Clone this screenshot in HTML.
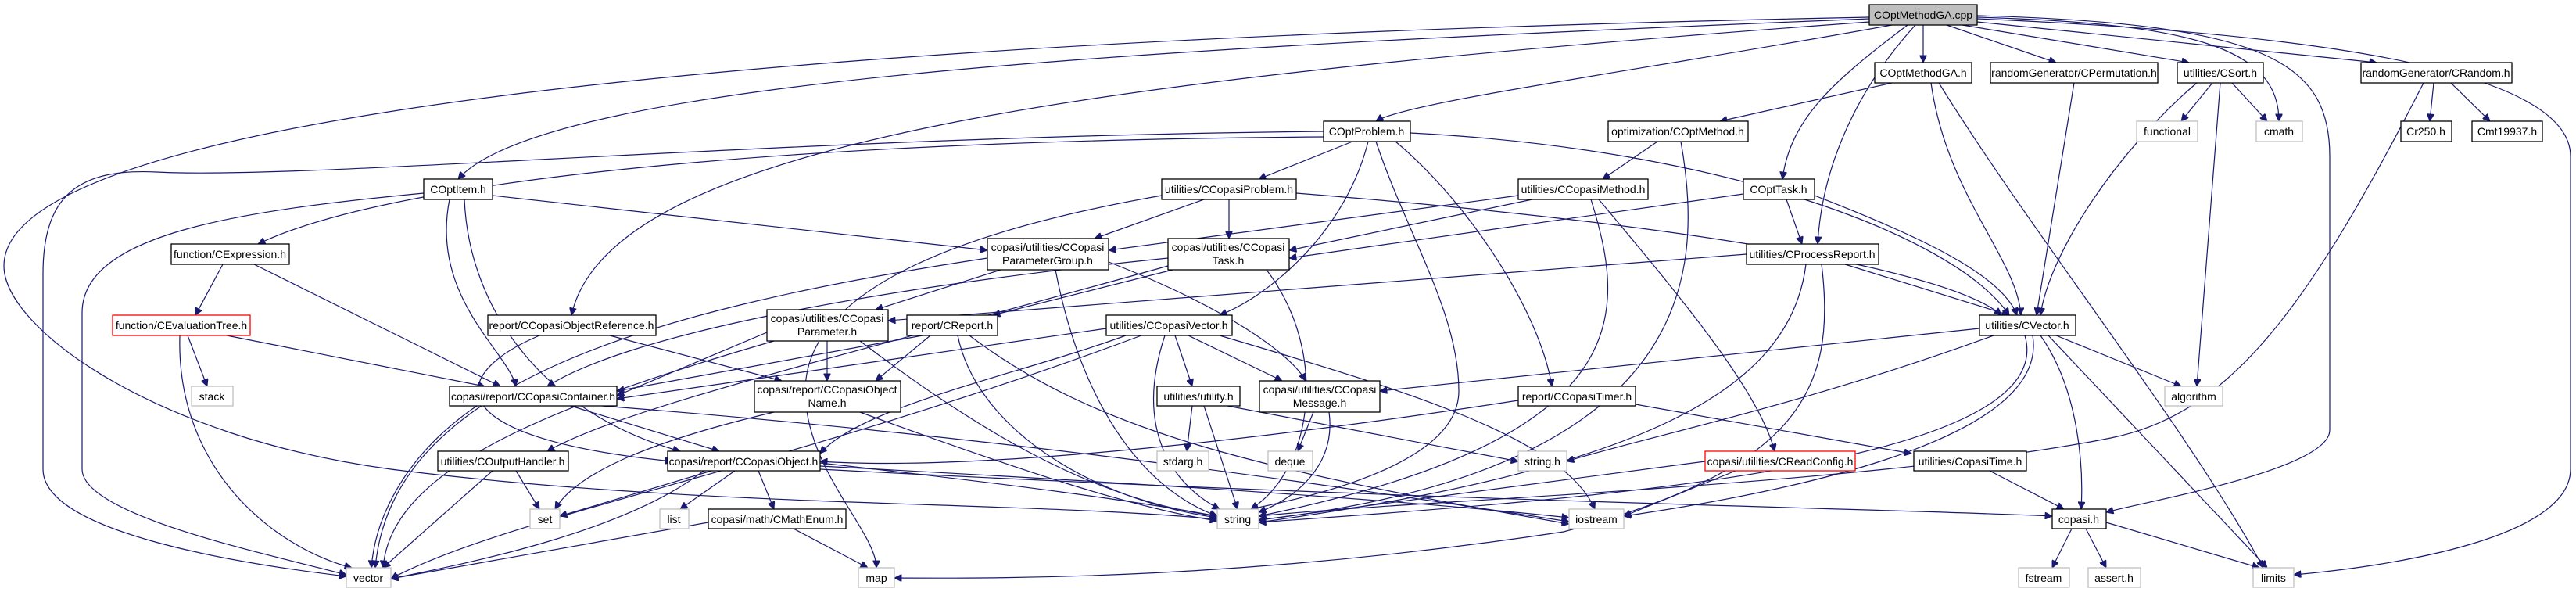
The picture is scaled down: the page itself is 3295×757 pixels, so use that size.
<!DOCTYPE html>
<html><head><meta charset="utf-8"><style>
html,body{margin:0;padding:0;background:#fff;}
svg{display:block;}
text{font-family:"Liberation Sans",sans-serif;font-size:14px;fill:#000;}
.n{fill:#fff;stroke:#000;stroke-width:1.3;}
.g{fill:#fff;stroke:#bfbfbf;stroke-width:1.3;}
.r{fill:#fff;stroke:#ff0000;stroke-width:1.3;}
.e path{fill:none;stroke:#191970;stroke-width:1.2;}
</style></head><body>
<svg width="3295" height="757" viewBox="0 0 3295 757" xmlns="http://www.w3.org/2000/svg">
<defs><marker id="a" viewBox="0 0 10 10" refX="10" refY="5" markerWidth="12" markerHeight="9" markerUnits="userSpaceOnUse" orient="auto"><path d="M0,0 L10,5 L0,10 z" fill="#191970" stroke="#191970"/></marker></defs>
<g class="e" marker-end="url(#a)">
<path marker-end="url(#a)" d="M2391,24 C1500,60 700,100 586,229"/>
<path marker-end="url(#a)" d="M2391,28 C1400,100 780,180 731,403"/>
<path marker-end="url(#a)" d="M2420,32 C2100,90 1800,130 1760,155"/>
<path marker-end="url(#a)" d="M2440,32 C2350,100 2290,150 2280,229"/>
<path marker-end="url(#a)" d="M2450,32 C2370,120 2330,220 2325,312"/>
<path marker-end="url(#a)" d="M2460,32 L2460,80"/>
<path marker-end="url(#a)" d="M2490,32 L2630,80"/>
<path marker-end="url(#a)" d="M2510,32 L2800,80"/>
<path marker-end="url(#a)" d="M2529,28 L3040,80"/>
<path marker-end="url(#a)" d="M2529,22 C2800,30 2915,60 2915,155"/>
<path marker-end="url(#a)" d="M2529,20 C2900,30 2980,80 2980,200 L2980,550 C2980,600 2750,640 2694,655"/>
<path marker-end="url(#a)" d="M2529,24 C2900,40 3288,80 3288,200 L3288,600 C3288,680 3100,720 2934,735"/>
<path marker-end="url(#a)" d="M2391,22 C1500,40 5,100 5,340 C5,420 200,560 500,600 C900,650 1300,640 1557,664"/>
<path marker-end="url(#a)" d="M2420,106 L2200,155"/>
<path marker-end="url(#a)" d="M2470,106 C2490,250 2580,330 2585,403"/>
<path marker-end="url(#a)" d="M2480,106 C2600,300 2800,550 2895,726"/>
<path marker-end="url(#a)" d="M2653,106 L2605,403"/>
<path marker-end="url(#a)" d="M2830,106 L2790,155"/>
<path marker-end="url(#a)" d="M2855,106 L2900,155"/>
<path marker-end="url(#a)" d="M2810,106 C2700,200 2620,330 2610,403"/>
<path marker-end="url(#a)" d="M2840,106 L2810,494"/>
<path marker-end="url(#a)" d="M3113,106 L3108,155"/>
<path marker-end="url(#a)" d="M3135,106 L3185,155"/>
<path marker-end="url(#a)" d="M3100,106 C2950,400 2850,530 2700,560 C2400,620 1800,640 1610,660"/>
<path marker-end="url(#a)" d="M2120,181 L2050,229"/>
<path marker-end="url(#a)" d="M2150,181 C2180,350 2170,600 1610,665"/>
<path marker-end="url(#a)" d="M1730,181 L1610,229"/>
<path marker-end="url(#a)" d="M1693,175 C1000,180 500,230 330,312"/>
<path marker-end="url(#a)" d="M1693,168 C1000,175 400,230 200,220 C100,215 55,250 55,350 L55,600 C55,680 300,720 443,737"/>
<path marker-end="url(#a)" d="M1804,170 C2200,190 2500,300 2570,403"/>
<path marker-end="url(#a)" d="M1760,181 C1800,300 1866,400 1866,500 C1866,600 1650,640 1600,651"/>
<path marker-end="url(#a)" d="M1750,181 C1720,300 1620,380 1560,403"/>
<path marker-end="url(#a)" d="M1785,181 C1880,260 1970,400 1985,494"/>
<path marker-end="url(#a)" d="M630,250 L1263,320"/>
<path marker-end="url(#a)" d="M575,255 C550,380 650,450 660,494"/>
<path marker-end="url(#a)" d="M594,255 C600,400 700,530 870,577"/>
<path marker-end="url(#a)" d="M542,247 C300,270 105,300 105,400 L105,600 C105,660 350,710 443,735"/>
<path marker-end="url(#a)" d="M1540,255 L1400,305"/>
<path marker-end="url(#a)" d="M1572,255 L1572,305"/>
<path marker-end="url(#a)" d="M1658,247 C2200,290 2500,350 2560,403"/>
<path marker-end="url(#a)" d="M1486,250 C1200,300 1030,380 1030,500 C1030,600 1121,680 1121,726"/>
<path marker-end="url(#a)" d="M1942,250 L1418,320"/>
<path marker-end="url(#a)" d="M1960,255 L1649,320"/>
<path marker-end="url(#a)" d="M2035,255 C2080,400 2100,560 1610,660"/>
<path marker-end="url(#a)" d="M2045,255 C2150,380 2250,500 2270,577"/>
<path marker-end="url(#a)" d="M2230,248 L1649,330"/>
<path marker-end="url(#a)" d="M2285,255 L2305,312"/>
<path marker-end="url(#a)" d="M2321,250 C2450,300 2560,350 2580,403"/>
<path marker-end="url(#a)" d="M285,338 L250,403"/>
<path marker-end="url(#a)" d="M325,338 L640,494"/>
<path marker-end="url(#a)" d="M1280,345 L1120,396"/>
<path marker-end="url(#a)" d="M1418,335 C1560,390 1650,450 1670,487"/>
<path marker-end="url(#a)" d="M1263,330 C800,400 500,500 480,726"/>
<path marker-end="url(#a)" d="M1350,345 C1380,500 1450,620 1557,660"/>
<path marker-end="url(#a)" d="M1500,345 L1270,403"/>
<path marker-end="url(#a)" d="M1494,330 C1100,370 800,430 700,494"/>
<path marker-end="url(#a)" d="M1494,340 C1100,450 800,520 700,577"/>
<path marker-end="url(#a)" d="M1620,345 C1700,450 1680,600 1600,651"/>
<path marker-end="url(#a)" d="M2234,325 L1136,410"/>
<path marker-end="url(#a)" d="M2360,338 L2570,403"/>
<path marker-end="url(#a)" d="M2310,338 C2290,500 2100,600 1610,668"/>
<path marker-end="url(#a)" d="M2330,338 C2350,500 2300,600 2000,680 C1600,740 1300,740 1144,739"/>
<path marker-end="url(#a)" d="M240,429 L265,494"/>
<path marker-end="url(#a)" d="M290,429 L620,494"/>
<path marker-end="url(#a)" d="M230,429 C225,600 350,700 450,726"/>
<path marker-end="url(#a)" d="M780,429 L1000,487"/>
<path marker-end="url(#a)" d="M690,429 C570,480 560,560 860,590"/>
<path marker-end="url(#a)" d="M981,425 L789,506"/>
<path marker-end="url(#a)" d="M1058,436 L1058,487"/>
<path marker-end="url(#a)" d="M1100,436 C1250,550 1400,640 1557,660"/>
<path marker-end="url(#a)" d="M990,436 C700,520 500,600 490,726"/>
<path marker-end="url(#a)" d="M1180,429 L789,500"/>
<path marker-end="url(#a)" d="M1190,429 L1120,487"/>
<path marker-end="url(#a)" d="M1225,429 C1250,550 1400,640 1557,662"/>
<path marker-end="url(#a)" d="M1240,429 C1400,550 1600,600 2007,670"/>
<path marker-end="url(#a)" d="M1415,420 L789,510"/>
<path marker-end="url(#a)" d="M1440,429 C1300,480 1100,520 1049,580"/>
<path marker-end="url(#a)" d="M1503,429 L1525,494"/>
<path marker-end="url(#a)" d="M1520,429 L1640,487"/>
<path marker-end="url(#a)" d="M1490,429 C1450,550 1500,620 1560,651"/>
<path marker-end="url(#a)" d="M1560,429 C1800,500 2000,560 2040,651"/>
<path marker-end="url(#a)" d="M1460,429 C1000,600 650,660 500,740"/>
<path marker-end="url(#a)" d="M2532,420 L1765,500"/>
<path marker-end="url(#a)" d="M2550,429 C2300,520 2100,560 2004,590"/>
<path marker-end="url(#a)" d="M2630,429 L2790,494"/>
<path marker-end="url(#a)" d="M2610,429 C2660,500 2665,600 2662,651"/>
<path marker-end="url(#a)" d="M2620,429 L2900,726"/>
<path marker-end="url(#a)" d="M2600,429 C2620,550 2350,620 2077,660"/>
<path marker-end="url(#a)" d="M2590,429 C2640,600 2000,640 1610,668"/>
<path marker-end="url(#a)" d="M730,519 L920,577"/>
<path marker-end="url(#a)" d="M610,519 C520,580 480,660 475,726"/>
<path marker-end="url(#a)" d="M770,519 C1300,560 1700,620 2007,667"/>
<path marker-end="url(#a)" d="M1100,527 C1300,600 1450,650 1557,666"/>
<path marker-end="url(#a)" d="M990,527 C850,560 740,600 710,651"/>
<path marker-end="url(#a)" d="M1525,519 L1518,577"/>
<path marker-end="url(#a)" d="M1540,519 L1583,651"/>
<path marker-end="url(#a)" d="M1570,519 L1942,590"/>
<path marker-end="url(#a)" d="M1680,527 L1660,577"/>
<path marker-end="url(#a)" d="M1700,527 C1710,600 1650,640 1610,655"/>
<path marker-end="url(#a)" d="M2092,517 L2445,580"/>
<path marker-end="url(#a)" d="M1942,512 C1500,580 1200,600 1049,590"/>
<path marker-end="url(#a)" d="M660,602 L690,651"/>
<path marker-end="url(#a)" d="M630,602 L490,726"/>
<path marker-end="url(#a)" d="M910,602 L716,660"/>
<path marker-end="url(#a)" d="M940,602 L870,651"/>
<path marker-end="url(#a)" d="M970,602 L990,651"/>
<path marker-end="url(#a)" d="M900,602 C800,680 600,720 500,740"/>
<path marker-end="url(#a)" d="M1049,592 C1300,620 1450,640 1557,660"/>
<path marker-end="url(#a)" d="M1049,596 C1500,620 1800,640 2007,662"/>
<path marker-end="url(#a)" d="M1049,600 C1800,640 2400,650 2625,660"/>
<path marker-end="url(#a)" d="M2181,590 L1610,665"/>
<path marker-end="url(#a)" d="M2220,602 L2077,660"/>
<path marker-end="url(#a)" d="M2545,602 L2640,651"/>
<path marker-end="url(#a)" d="M2650,676 L2625,726"/>
<path marker-end="url(#a)" d="M2668,676 L2694,726"/>
<path marker-end="url(#a)" d="M2694,668 L2890,726"/>
<path marker-end="url(#a)" d="M906,668 L500,740"/>
<path marker-end="url(#a)" d="M1015,676 L1110,726"/>
</g>
<g text-anchor="middle">
<rect x="2391" y="6" width="138" height="26" fill="#bfbfbf" stroke="#000" stroke-width="1.3"/><text x="2460" y="24">COptMethodGA.cpp</text>
<rect class="n" x="542" y="229" width="88" height="26"/><text x="586" y="247">COptItem.h</text>
<rect class="n" x="624" y="403" width="215" height="26"/><text x="731" y="421">report/CCopasiObjectReference.h</text>
<rect class="n" x="1693" y="155" width="111" height="26"/><text x="1748" y="173">COptProblem.h</text>
<rect class="n" x="2230" y="229" width="91" height="26"/><text x="2275" y="247">COptTask.h</text>
<rect class="n" x="2234" y="312" width="169" height="26"/><text x="2318" y="330">utilities/CProcessReport.h</text>
<rect class="n" x="2398" y="80" width="124" height="26"/><text x="2460" y="98">COptMethodGA.h</text>
<rect class="n" x="2546" y="80" width="214" height="26"/><text x="2653" y="98">randomGenerator/CPermutation.h</text>
<rect class="n" x="2785" y="80" width="110" height="26"/><text x="2840" y="98">utilities/CSort.h</text>
<rect class="n" x="3020" y="80" width="193" height="26"/><text x="3116" y="98">randomGenerator/CRandom.h</text>
<rect class="g" x="2886" y="155" width="59" height="26"/><text x="2915" y="173">cmath</text>
<rect class="g" x="2733" y="155" width="78" height="26"/><text x="2772" y="173">functional</text>
<rect class="n" x="3071" y="155" width="65" height="26"/><text x="3103" y="173">Cr250.h</text>
<rect class="n" x="3162" y="155" width="90" height="26"/><text x="3207" y="173">Cmt19937.h</text>
<rect class="n" x="2057" y="155" width="179" height="26"/><text x="2146" y="173">optimization/COptMethod.h</text>
<rect class="n" x="1486" y="229" width="172" height="26"/><text x="1572" y="247">utilities/CCopasiProblem.h</text>
<rect class="n" x="1942" y="229" width="166" height="26"/><text x="2025" y="247">utilities/CCopasiMethod.h</text>
<rect class="n" x="219" y="312" width="151" height="26"/><text x="294" y="330">function/CExpression.h</text>
<rect class="n" x="1263" y="305" width="155" height="40"/><text x="1340" y="321">copasi/utilities/CCopasi</text><text x="1340" y="338">ParameterGroup.h</text>
<rect class="n" x="1494" y="305" width="155" height="40"/><text x="1571" y="321">copasi/utilities/CCopasi</text><text x="1571" y="338">Task.h</text>
<rect class="r" x="144" y="403" width="176" height="26"/><text x="232" y="421">function/CEvaluationTree.h</text>
<rect class="n" x="981" y="396" width="155" height="40"/><text x="1058" y="412">copasi/utilities/CCopasi</text><text x="1058" y="429">Parameter.h</text>
<rect class="n" x="1160" y="403" width="116" height="26"/><text x="1218" y="421">report/CReport.h</text>
<rect class="n" x="1415" y="403" width="161" height="26"/><text x="1495" y="421">utilities/CCopasiVector.h</text>
<rect class="n" x="2532" y="403" width="123" height="26"/><text x="2593" y="421">utilities/CVector.h</text>
<rect class="g" x="2769" y="494" width="74" height="25"/><text x="2806" y="512">algorithm</text>
<rect class="g" x="245" y="494" width="53" height="25"/><text x="271" y="512">stack</text>
<rect class="n" x="575" y="494" width="214" height="25"/><text x="682" y="512">copasi/report/CCopasiContainer.h</text>
<rect class="n" x="965" y="487" width="187" height="40"/><text x="1058" y="503">copasi/report/CCopasiObject</text><text x="1058" y="520">Name.h</text>
<rect class="n" x="1480" y="494" width="106" height="25"/><text x="1533" y="512">utilities/utility.h</text>
<rect class="n" x="1611" y="487" width="154" height="40"/><text x="1688" y="503">copasi/utilities/CCopasi</text><text x="1688" y="520">Message.h</text>
<rect class="n" x="1942" y="494" width="150" height="25"/><text x="2017" y="512">report/CCopasiTimer.h</text>
<rect class="n" x="560" y="577" width="167" height="25"/><text x="643" y="595">utilities/COutputHandler.h</text>
<rect class="n" x="854" y="577" width="195" height="25"/><text x="951" y="595">copasi/report/CCopasiObject.h</text>
<rect class="g" x="1480" y="577" width="66" height="25"/><text x="1513" y="595">stdarg.h</text>
<rect class="g" x="1622" y="577" width="57" height="25"/><text x="1650" y="595">deque</text>
<rect class="g" x="1942" y="577" width="62" height="25"/><text x="1973" y="595">string.h</text>
<rect class="r" x="2181" y="577" width="192" height="25"/><text x="2277" y="595">copasi/utilities/CReadConfig.h</text>
<rect class="n" x="2448" y="577" width="144" height="25"/><text x="2520" y="595">utilities/CopasiTime.h</text>
<rect class="g" x="678" y="651" width="38" height="25"/><text x="697" y="669">set</text>
<rect class="g" x="844" y="651" width="37" height="25"/><text x="862" y="669">list</text>
<rect class="n" x="906" y="651" width="176" height="25"/><text x="994" y="669">copasi/math/CMathEnum.h</text>
<rect class="g" x="1557" y="651" width="53" height="25"/><text x="1583" y="669">string</text>
<rect class="g" x="2007" y="651" width="70" height="25"/><text x="2042" y="669">iostream</text>
<rect class="n" x="2625" y="651" width="69" height="25"/><text x="2659" y="669">copasi.h</text>
<rect class="g" x="443" y="726" width="57" height="25"/><text x="471" y="744">vector</text>
<rect class="g" x="1098" y="726" width="46" height="25"/><text x="1121" y="744">map</text>
<rect class="g" x="2582" y="726" width="65" height="25"/><text x="2614" y="744">fstream</text>
<rect class="g" x="2671" y="726" width="67" height="25"/><text x="2704" y="744">assert.h</text>
<rect class="g" x="2882" y="726" width="52" height="25"/><text x="2908" y="744">limits</text>
</g>
</svg>
</body></html>
